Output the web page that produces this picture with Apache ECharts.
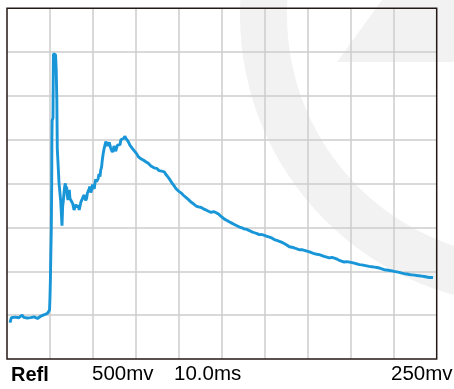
<!DOCTYPE html>
<html>
<head>
<meta charset="utf-8">
<script src="https://cdn.jsdelivr.net/npm/echarts@6/dist/echarts.min.js"></script>
<style>
html,body{margin:0;padding:0;background:#fff;}
#chart{width:454px;height:389px;}
</style>
</head>
<body>
<div id="chart"></div>
<script>
// Time axis (ms), 10.0 ms per division
var timeMs = [
  0.7,1.0,1.4,1.9,2.3,2.7,3.1,3.5,3.9,4.3,4.7,5.1,5.5,5.9,6.3,6.7,7.1,7.5,7.9,8.3,8.7,9.0,9.4,9.7,9.9,
  10.0,10.1,10.2,10.3,10.35,10.4,10.45,10.5,10.6,10.7,10.8,11.0,11.2,11.3,11.45,11.6,11.7,11.9,12.1,12.3,12.5,12.8,
  12.95,13.1,13.26,13.4,13.57,13.7,13.88,14.0,14.19,14.3,14.5,14.65,14.81,15.0,15.12,15.3,15.43,15.6,15.81,16.0,16.2,16.4,16.59,16.8,16.98,17.2,17.36,17.55,17.75,17.9,18.14,18.3,18.53,18.7,18.91,19.1,19.3,19.5,19.69,19.9,20.08,20.3,20.47,20.65,20.85,21.0,21.24,21.4,21.63,
  21.8,22.02,22.2,22.4,22.6,22.79,23.0,23.18,23.4,23.6,23.8,23.95,24.1,24.3,24.5,24.73,24.9,25.12,25.3,25.5,25.7,25.89,26.1,26.3,26.5,26.67,26.9,27.21,27.4,27.67,27.9,28.22,28.4,28.6,28.8,28.99,29.2,29.4,29.6,29.77,30.0,30.2,30.4,30.54,30.7,30.9,31.1,31.32,31.5,31.7,31.9,32.09,32.3,32.5,32.7,32.87,33.1,33.3,33.5,33.64,33.9,34.2,34.5,34.81,35.1,35.4,35.7,35.97,36.2,36.4,36.6,36.74,36.9,37.1,37.3,37.52,37.7,37.9,38.1,38.29,38.5,38.7,38.9,39.07,39.3,39.6,39.9,40.23,40.5,40.8,41.1,41.4,41.7,42.0,42.3,42.56,42.8,43.1,43.4,43.72,44.0,44.3,44.6,44.88,45.2,45.5,45.8,46.05,46.3,46.6,46.9,47.21,47.5,47.8,48.1,48.37,48.7,49.0,49.3,49.53,49.7,49.9,50.1,50.31,50.6,50.9,51.2,51.47,51.7,52.0,52.3,52.64,52.9,53.2,53.5,53.8,54.1,54.4,54.7,54.96,55.2,55.5,55.8,56.12,56.4,56.7,57.0,57.29,57.6,57.9,58.2,58.45,58.7,59.0,59.3,59.61,59.9,60.2,60.5,60.78,61.1,61.4,61.7,61.94,62.2,62.5,62.8,63.1,63.4,63.7,64.0,64.26,64.5,64.8,65.1,65.43,65.7,66.0,66.3,66.59,66.9,67.2,67.5,67.75,68.0,68.3,68.6,68.91,69.2,69.5,69.8,70.08,70.4,70.7,71.0,71.24,71.5,71.8,72.1,72.4,72.7,73.0,73.3,73.57,73.8,74.1,74.4,74.73,75.0,75.3,75.6,75.89,76.2,76.5,76.8,77.05,77.3,77.6,77.9,78.22,78.5,78.8,79.1,79.38,79.7,80.0,80.3,80.54,80.8,81.1,81.4,81.71,82.0,82.3,82.6,82.87,83.1,83.4,83.7,84.03,84.3,84.6,84.9,85.19,85.5,85.8,86.1,86.36,86.6,86.9,87.2,87.52,87.8,88.1,88.4,88.68,89.0,89.3,89.6,89.84,90.1,90.4,90.7,91.01,91.3,91.6,91.9,92.17,92.5,92.8,93.1,93.33,93.6,93.9,94.2,94.5,94.8,95.1,95.4,95.66,95.9,96.2,96.5,96.82,97.1,97.4,97.7,98.0,98.3,98.6,98.9,99.15,99.5,99.8
];
// Reflected signal (mV), 500 mV per division
var reflMv = [
  414,470,490,478,495,470,492,500,475,488,468,490,472,460,480,470,462,478,490,500,505,495,520,530,560,
  700,900,1200,1450,1700,2000,2500,2720,2730,2750,3480,3490,3480,3470,3300,2950,2400,2210,2010,2000,1800,1520,
  1738,1800,1890,1960,2004,1940,1966,1870,1814,1900,1928,1830,1852,1800,1814,1770,1757,1700,1719,1760,1776,1730,1757,1700,1719,1790,1776,1830,1814,1870,1852,1810,1833,1890,1909,1940,1966,1900,1928,1990,1966,1940,2004,2050,2023,2040,2061,2110,2080,
  2150,2194,2280,2346,2400,2422,2480,2460,2430,2440,2470,2452,2410,2400,2360,2384,2430,2422,2370,2384,2440,2460,2430,2445,2500,2479,2520,2517,2540,2517,2500,2479,2460,2440,2450,2422,2400,2395,2380,2365,2360,2340,2325,2308,2315,2295,2285,2277,2290,2270,2262,2258,2250,2245,2238,2232,2220,2210,2200,2194,2185,2180,2175,2175,2160,2148,2150,2142,2145,2137,2135,2120,2110,2099,2085,2075,2060,2042,2030,2015,2000,1985,1975,1960,1945,1928,1915,1900,1895,1878,1865,1850,1840,1825,1815,1800,1790,1776,1770,1760,1745,1738,1735,1725,1728,1719,1710,1705,1700,1692,1685,1680,1672,1669,1680,1675,1668,1661,1650,1640,1632,1623,1610,1605,1595,1585,1580,1570,1565,1559,1550,1545,1535,1528,1520,1515,1505,1498,1495,1490,1484,1479,1478,1470,1465,1460,1450,1445,1440,1433,1430,1425,1418,1414,1420,1418,1410,1407,1400,1395,1390,1384,1378,1370,1362,1357,1352,1348,1342,1338,1330,1325,1318,1312,1300,1290,1280,1274,1275,1270,1266,1262,1255,1250,1246,1243,1248,1245,1240,1236,1230,1225,1222,1217,1210,1206,1202,1198,1195,1192,1190,1186,1180,1175,1170,1167,1162,1158,1153,1148,1158,1155,1150,1148,1140,1130,1125,1118,1115,1110,1106,1103,1110,1108,1105,1103,1100,1096,1094,1091,1085,1080,1076,1072,1073,1070,1068,1065,1062,1058,1056,1053,1052,1050,1048,1046,1044,1040,1038,1034,1028,1022,1018,1015,1015,1012,1010,1008,1005,1002,999,996,994,990,988,985,980,976,973,970,969,966,964,962,960,958,956,954,952,950,949,947,945,943,941,939,935,932,930,928,930,928
];
// Bottom caption texts
var captionTexts = ['Refl', '500mv', '10.0ms', '250mv'];

var data = timeMs.map(function (t, i) { return [t, reflMv[i]]; });

var chart = echarts.init(document.getElementById('chart'), null, {renderer: 'canvas'});
var font = 'Liberation Sans, Arial, sans-serif';
chart.setOption({
  animation: false,
  backgroundColor: '#ffffff',
  graphic: [
    {type: 'ring', z: -10, shape: {cx: 530, cy: 15, r: 290, r0: 243}, style: {fill: '#f2f2f2'}, silent: true},
    {type: 'polygon', z: -10, shape: {points: [[382, 0], [337, 62], [454, 62], [454, 0]]}, style: {fill: '#f2f2f2'}, silent: true},
    {type: 'text', left: 11, top: 365, style: {text: captionTexts[0], font: 'bold 20px ' + font, fill: '#000'}},
    {type: 'text', left: 92, top: 364, style: {text: captionTexts[1], font: '20.5px ' + font, fill: '#000'}},
    {type: 'text', left: 174, top: 364, style: {text: captionTexts[2], font: '20.5px ' + font, fill: '#000'}},
    {type: 'text', left: 391, top: 364, style: {text: captionTexts[3], font: '20.5px ' + font, fill: '#000'}}
  ],
  grid: {
    left: 7, top: 8.3, right: 17.3, bottom: 30, z: 4,
    show: true, borderColor: '#231815', borderWidth: 1.5, backgroundColor: 'transparent',
    containLabel: false
  },
  xAxis: {
    type: 'value', min: 0, max: 100, interval: 10,
    axisLine: {show: false}, axisTick: {show: false}, axisLabel: {show: false},
    splitLine: {show: true, showMinLine: false, showMaxLine: false, lineStyle: {color: '#cdcdcd', width: 1.5}}
  },
  yAxis: {
    type: 'value', min: 0, max: 4000, interval: 500,
    axisLine: {show: false}, axisTick: {show: false}, axisLabel: {show: false},
    splitLine: {show: true, showMinLine: false, showMaxLine: false, lineStyle: {color: '#cdcdcd', width: 1.5}}
  },
  series: [{
    type: 'line', data: data, showSymbol: false, smooth: false,
    lineStyle: {color: '#1896d8', width: 2.9}, z: 5
  }]
});
</script>
</body>
</html>
